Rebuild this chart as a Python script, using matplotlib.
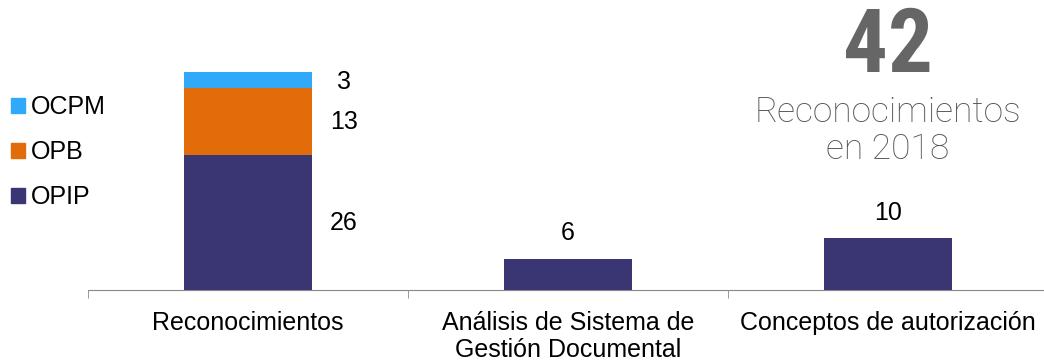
import matplotlib.pyplot as plt
from matplotlib.patches import Patch

categories = ["Reconocimientos", "Análisis de Sistema de\nGestión Documental", "Conceptos de autorización"]
opip = [26, 6, 10]
opb = [13, 0, 0]
ocpm = [3, 0, 0]
total_big = "42"
big_caption = "Reconocimientos\nen 2018"

c_opip = "#3A3573"
c_opb = "#E36C0A"
c_ocpm = "#30A9FA"

plt.rcParams['font.family'] = ['Liberation Sans', 'DejaVu Sans']

fig = plt.figure(figsize=(10.44, 3.6), dpi=100)
ax = fig.add_axes([88 / 1044, 70 / 360, 960 / 1044, 259 / 360])

x = range(len(categories))
w = 0.4
ax.bar(x, opip, w, color=c_opip, label="OPIP")
ax.bar(x, opb, w, bottom=opip, color=c_opb, label="OPB")
bottom2 = [a + b for a, b in zip(opip, opb)]
ax.bar(x, ocpm, w, bottom=bottom2, color=c_ocpm, label="OCPM")

# labels of the stacked bar, to the right of each segment
ax.text(0.3, opip[0] / 2, str(opip[0]), ha="center", va="center", fontsize=18)
ax.text(0.3, opip[0] + opb[0] / 2, str(opb[0]), ha="center", va="center", fontsize=18)
ax.text(0.3, bottom2[0] + ocpm[0] / 2 - 0.3, str(ocpm[0]), ha="center", va="center", fontsize=18)
# labels above the single bars
for i in (1, 2):
    ax.annotate(str(opip[i]), (i, opip[i]), xytext=(0, 18.5), textcoords="offset points",
                ha="center", va="center", fontsize=18)

ax.set_xlim(-0.5, 2.5)
ax.set_ylim(0, 50)
for s in ("top", "right", "left"):
    ax.spines[s].set_visible(False)
ax.spines["bottom"].set_color("#888888")
ax.set_yticks([])
ax.set_xticks(list(x))
ax.set_xticklabels(categories, fontsize=18, linespacing=1.15)
ax.tick_params(axis="x", which="major", length=0, pad=15)
ax.set_xticks([-0.5, 0.5, 1.5, 2.5], minor=True)
ax.tick_params(axis="x", which="minor", length=6, color="#888888", direction="out")

handles = [Patch(color=c_ocpm), Patch(color=c_opb), Patch(color=c_opip)]
fig.legend(handles, ["OCPM", "OPB", "OPIP"], loc="upper left",
           bbox_to_anchor=(11 / 1044, 1 - 95 / 360), frameon=False, fontsize=18,
           handlelength=0.55, handleheight=0.55, handletextpad=0.25,
           labelspacing=0.85, borderpad=0, borderaxespad=0)

fig.text(888 / 1044, 1 - 48 / 360, total_big, ha="center", va="center",
         fontsize=64, fontweight="bold", color="#666666",
         family=['Liberation Sans Narrow', 'Roboto Condensed', 'Liberation Sans'])
fig.text(888 / 1044, 1 - 130.5 / 360, big_caption, ha="center", va="center",
         fontsize=25.5, color="#555555", linespacing=1.14,
         family=['Roboto', 'DejaVu Sans'], fontweight="light")

fig.savefig("out.png", dpi=100)
